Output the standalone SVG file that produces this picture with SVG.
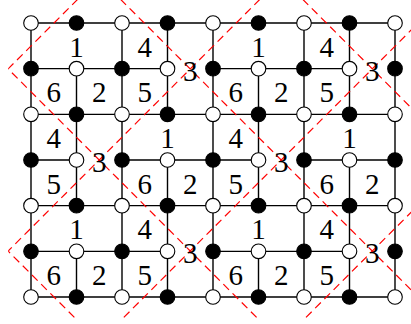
<svg xmlns="http://www.w3.org/2000/svg" width="411" height="324" viewBox="0 0 411 324">
<style>
.e{fill:none;stroke:#000;stroke-width:1.4}
.r{fill:none;stroke:#ff0000;stroke-width:1.2;stroke-dasharray:8 5}
.w{fill:#fff;stroke:#000;stroke-width:1.1}
.b{fill:#000;stroke:#000;stroke-width:1.1}
text{font-family:"Liberation Serif","Times New Roman",serif;font-size:29px;fill:#000;text-anchor:middle}
</style>
<defs>
<clipPath id="clip"><rect x="8.25" y="0" width="409.5" height="319.8"/></clipPath>
</defs>
<rect width="411" height="324" fill="#fff"/>
<g id="connectors">
<path class="e" d="M31 23H395M31 68.67H167.5M213 68.67H349.5M31 114.33H395M31 160H76.5M122 160H258.5M304 160H395M31 205.67H395M31 251.33H167.5M213 251.33H349.5M31 297H395"/>
<path class="e" d="M31 23V297M76.5 68.67V205.67M76.5 251.33V297M122 23V297M167.5 23V114.33M167.5 160V297M213 23V297M258.5 68.67V205.67M258.5 251.33V297M304 23V297M349.5 23V114.33M349.5 160V297M395 23V297"/>
</g>
<g id="red-lines" clip-path="url(#clip)">
<path class="r" d="M87 -10L-263 340M269.2 -10L-80.8 340M451.2 -10L101.2 340M633.4 -10L283.4 340"/>
<path class="r" d="M-253 -10L97 340M-70.8 -10L279.2 340M111.2 -10L461.2 340M293.4 -10L643.4 340"/>
</g>
<g id="n0_0"><circle class="w" cx="31" cy="23" r="7.3"/></g>
<g id="n1_0"><circle class="b" cx="76.5" cy="23" r="7.3"/></g>
<g id="n2_0"><circle class="w" cx="122" cy="23" r="7.3"/></g>
<g id="n3_0"><circle class="b" cx="167.5" cy="23" r="7.3"/></g>
<g id="n4_0"><circle class="w" cx="213" cy="23" r="7.3"/></g>
<g id="n5_0"><circle class="b" cx="258.5" cy="23" r="7.3"/></g>
<g id="n6_0"><circle class="w" cx="304" cy="23" r="7.3"/></g>
<g id="n7_0"><circle class="b" cx="349.5" cy="23" r="7.3"/></g>
<g id="n8_0"><circle class="w" cx="395" cy="23" r="7.3"/></g>
<g id="n0_1"><circle class="b" cx="31" cy="68.67" r="7.3"/></g>
<g id="n1_1"><circle class="w" cx="76.5" cy="68.67" r="7.3"/></g>
<g id="n2_1"><circle class="b" cx="122" cy="68.67" r="7.3"/></g>
<g id="n3_1"><circle class="w" cx="167.5" cy="68.67" r="7.3"/></g>
<g id="n4_1"><circle class="b" cx="213" cy="68.67" r="7.3"/></g>
<g id="n5_1"><circle class="w" cx="258.5" cy="68.67" r="7.3"/></g>
<g id="n6_1"><circle class="b" cx="304" cy="68.67" r="7.3"/></g>
<g id="n7_1"><circle class="w" cx="349.5" cy="68.67" r="7.3"/></g>
<g id="n8_1"><circle class="b" cx="395" cy="68.67" r="7.3"/></g>
<g id="n0_2"><circle class="w" cx="31" cy="114.33" r="7.3"/></g>
<g id="n1_2"><circle class="b" cx="76.5" cy="114.33" r="7.3"/></g>
<g id="n2_2"><circle class="w" cx="122" cy="114.33" r="7.3"/></g>
<g id="n3_2"><circle class="b" cx="167.5" cy="114.33" r="7.3"/></g>
<g id="n4_2"><circle class="w" cx="213" cy="114.33" r="7.3"/></g>
<g id="n5_2"><circle class="b" cx="258.5" cy="114.33" r="7.3"/></g>
<g id="n6_2"><circle class="w" cx="304" cy="114.33" r="7.3"/></g>
<g id="n7_2"><circle class="b" cx="349.5" cy="114.33" r="7.3"/></g>
<g id="n8_2"><circle class="w" cx="395" cy="114.33" r="7.3"/></g>
<g id="n0_3"><circle class="b" cx="31" cy="160" r="7.3"/></g>
<g id="n1_3"><circle class="w" cx="76.5" cy="160" r="7.3"/></g>
<g id="n2_3"><circle class="b" cx="122" cy="160" r="7.3"/></g>
<g id="n3_3"><circle class="w" cx="167.5" cy="160" r="7.3"/></g>
<g id="n4_3"><circle class="b" cx="213" cy="160" r="7.3"/></g>
<g id="n5_3"><circle class="w" cx="258.5" cy="160" r="7.3"/></g>
<g id="n6_3"><circle class="b" cx="304" cy="160" r="7.3"/></g>
<g id="n7_3"><circle class="w" cx="349.5" cy="160" r="7.3"/></g>
<g id="n8_3"><circle class="b" cx="395" cy="160" r="7.3"/></g>
<g id="n0_4"><circle class="w" cx="31" cy="205.67" r="7.3"/></g>
<g id="n1_4"><circle class="b" cx="76.5" cy="205.67" r="7.3"/></g>
<g id="n2_4"><circle class="w" cx="122" cy="205.67" r="7.3"/></g>
<g id="n3_4"><circle class="b" cx="167.5" cy="205.67" r="7.3"/></g>
<g id="n4_4"><circle class="w" cx="213" cy="205.67" r="7.3"/></g>
<g id="n5_4"><circle class="b" cx="258.5" cy="205.67" r="7.3"/></g>
<g id="n6_4"><circle class="w" cx="304" cy="205.67" r="7.3"/></g>
<g id="n7_4"><circle class="b" cx="349.5" cy="205.67" r="7.3"/></g>
<g id="n8_4"><circle class="w" cx="395" cy="205.67" r="7.3"/></g>
<g id="n0_5"><circle class="b" cx="31" cy="251.33" r="7.3"/></g>
<g id="n1_5"><circle class="w" cx="76.5" cy="251.33" r="7.3"/></g>
<g id="n2_5"><circle class="b" cx="122" cy="251.33" r="7.3"/></g>
<g id="n3_5"><circle class="w" cx="167.5" cy="251.33" r="7.3"/></g>
<g id="n4_5"><circle class="b" cx="213" cy="251.33" r="7.3"/></g>
<g id="n5_5"><circle class="w" cx="258.5" cy="251.33" r="7.3"/></g>
<g id="n6_5"><circle class="b" cx="304" cy="251.33" r="7.3"/></g>
<g id="n7_5"><circle class="w" cx="349.5" cy="251.33" r="7.3"/></g>
<g id="n8_5"><circle class="b" cx="395" cy="251.33" r="7.3"/></g>
<g id="n0_6"><circle class="w" cx="31" cy="297" r="7.3"/></g>
<g id="n1_6"><circle class="b" cx="76.5" cy="297" r="7.3"/></g>
<g id="n2_6"><circle class="w" cx="122" cy="297" r="7.3"/></g>
<g id="n3_6"><circle class="b" cx="167.5" cy="297" r="7.3"/></g>
<g id="n4_6"><circle class="w" cx="213" cy="297" r="7.3"/></g>
<g id="n5_6"><circle class="b" cx="258.5" cy="297" r="7.3"/></g>
<g id="n6_6"><circle class="w" cx="304" cy="297" r="7.3"/></g>
<g id="n7_6"><circle class="b" cx="349.5" cy="297" r="7.3"/></g>
<g id="n8_6"><circle class="w" cx="395" cy="297" r="7.3"/></g>
<g id="labels">
<text x="76.5" y="56.6">1</text><text x="144.75" y="56.6">4</text><text x="258.5" y="56.6">1</text><text x="326.75" y="56.6">4</text>
<text x="190.25" y="80.7">3</text><text x="372.25" y="80.7">3</text>
<text x="53.75" y="102.3">6</text><text x="99.25" y="102.3">2</text><text x="144.75" y="102.3">5</text><text x="235.75" y="102.3">6</text><text x="281.25" y="102.3">2</text><text x="326.75" y="102.3">5</text>
<text x="53.75" y="148">4</text><text x="167.5" y="148">1</text><text x="235.75" y="148">4</text><text x="349.5" y="148">1</text>
<text x="99.25" y="172">3</text><text x="281.25" y="172">3</text>
<text x="53.75" y="193.6">5</text><text x="144.75" y="193.6">6</text><text x="190.25" y="193.6">2</text><text x="235.75" y="193.6">5</text><text x="326.75" y="193.6">6</text><text x="372.25" y="193.6">2</text>
<text x="76.5" y="239.3">1</text><text x="144.75" y="239.3">4</text><text x="258.5" y="239.3">1</text><text x="326.75" y="239.3">4</text>
<text x="190.25" y="263.3">3</text><text x="372.25" y="263.3">3</text>
<text x="53.75" y="285">6</text><text x="99.25" y="285">2</text><text x="144.75" y="285">5</text><text x="235.75" y="285">6</text><text x="281.25" y="285">2</text><text x="326.75" y="285">5</text>
</g>
</svg>
